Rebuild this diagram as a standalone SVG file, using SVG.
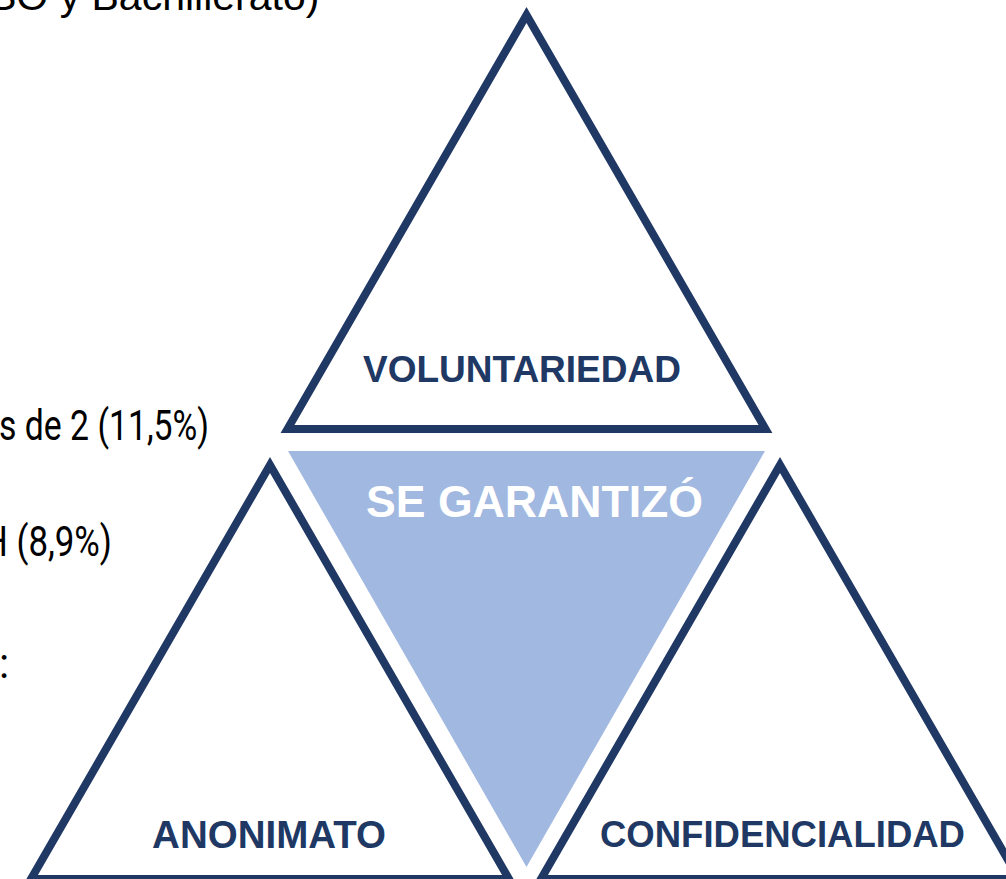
<svg xmlns="http://www.w3.org/2000/svg" width="1006" height="879" viewBox="0 0 1006 879">
  <style>
    .tri { fill: #ffffff; stroke: #203864; stroke-width: 8; stroke-linejoin: miter; stroke-miterlimit: 10; }
    .lbl { font-family: "Liberation Sans", Arial, sans-serif; font-weight: bold; fill: #203864; text-anchor: middle; }
    .side { font-family: "Roboto", "Liberation Sans", sans-serif; fill: #000000; }
  </style>
  <rect x="0" y="0" width="1006" height="879" fill="#ffffff"/>
  <g id="background-text">
    <text x="-11" y="10" font-family="Liberation Sans, Arial, sans-serif" font-size="41" fill="#000000">SO y Bachillerato)</text>
    <text class="side" x="-1" y="440" font-size="42" textLength="210" lengthAdjust="spacingAndGlyphs">s de 2 (11,5%)</text>
    <text class="side" x="-17" y="556" font-size="42" textLength="129" lengthAdjust="spacingAndGlyphs">H (8,9%)</text>
    <text class="side" x="-1" y="678" font-size="42">:</text>
  </g>
  <g id="connectors"></g>
  <g id="node-garantizo">
    <polygon points="288,451 765,451 526.5,867" fill="#a1b8e0"/>
    <text x="534.5" y="517" font-family="Liberation Sans, Arial, sans-serif" font-weight="bold" font-size="44.5" fill="#ffffff" text-anchor="middle" textLength="337" lengthAdjust="spacingAndGlyphs">SE GARANTIZÓ</text>
  </g>
  <g id="node-voluntariedad">
    <polygon class="tri" points="526.5,15 287.5,429 765.5,429"/>
    <text class="lbl" x="522" y="382" font-size="37">VOLUNTARIEDAD</text>
  </g>
  <g id="node-anonimato">
    <polygon class="tri" points="270,465 31,879 509,879"/>
    <text class="lbl" x="269" y="848" font-size="38.5">ANONIMATO</text>
  </g>
  <g id="node-confidencialidad">
    <polygon class="tri" points="780,465 541,879 1019,879"/>
    <text class="lbl" x="782.5" y="847" font-size="36.5">CONFIDENCIALIDAD</text>
  </g>
</svg>
